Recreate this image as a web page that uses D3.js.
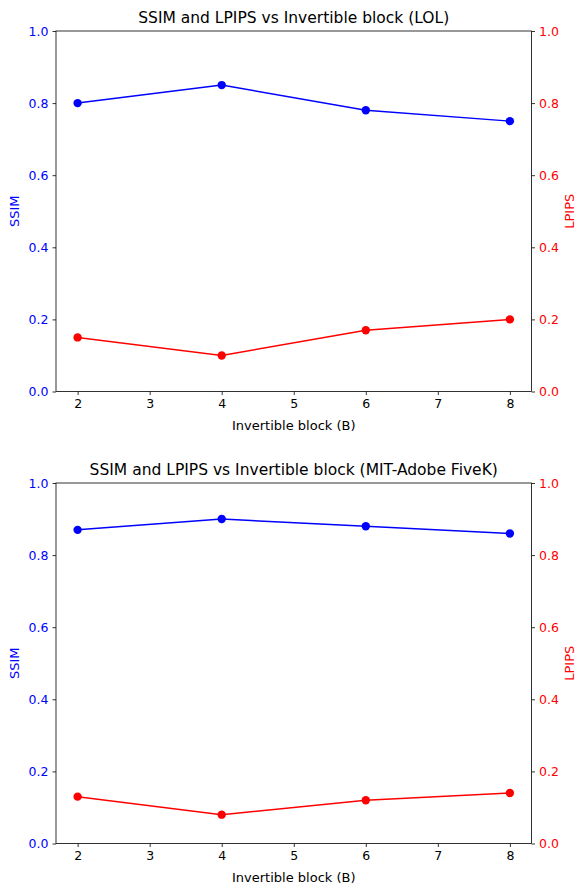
<!DOCTYPE html>
<html>
<head>
<meta charset="utf-8">
<script src="https://cdn.jsdelivr.net/npm/d3@7"></script>
<style>
  body { margin: 0; background: #fff; }
  svg text { font-family: "DejaVu Sans", sans-serif; }
</style>
</head>
<body>
<div id="chart"></div>
<script>

// x values shared by both panels
var blocks = [2, 4, 6, 8];
var xTicks = [2, 3, 4, 5, 6, 7, 8];
var yTicks = [0, 0.2, 0.4, 0.6, 0.8, 1.0];

var ssimLOL    = [0.80, 0.85, 0.78, 0.75];
var lpipsLOL   = [0.15, 0.10, 0.17, 0.20];
var ssimFiveK  = [0.87, 0.90, 0.88, 0.86];
var lpipsFiveK = [0.13, 0.08, 0.12, 0.14];

var titles = ["SSIM and LPIPS vs Invertible block (LOL)",
              "SSIM and LPIPS vs Invertible block (MIT-Adobe FiveK)"];

var width = 577, height = 886;

var svg = d3.select("#chart").append("svg")
    .attr("width", width).attr("height", height);

var left = 56, right = 531.5, plotH = 360.5;
var tops = [31, 483];

var x = d3.scaleLinear().domain([1.7, 8.3]).range([left, right]);

function drawPanel(top, ssim, lpips, title) {

  var y = d3.scaleLinear().domain([0, 1]).range([top + plotH, top]);
  var g = svg.append("g");

  var pts = function(vals) { return blocks.map(function(b, i) { return [b, vals[i]]; }); };
  var line = d3.line().x(function(d) { return x(d[0]); }).y(function(d) { return y(d[1]); });

  // axes
  var xAxis = g.append("g").attr("transform", "translate(0," + (top + plotH) + ")")
      .call(d3.axisBottom(x).tickValues(xTicks).tickFormat(d3.format("d")).tickSize(3.5).tickPadding(4));
  var yLeft = g.append("g").attr("transform", "translate(" + left + ",0)")
      .call(d3.axisLeft(y).tickValues(yTicks).tickFormat(d3.format(".1f")).tickSize(3.5).tickPadding(4));
  var yRight = g.append("g").attr("transform", "translate(" + right + ",0)")
      .call(d3.axisRight(y).tickValues(yTicks).tickFormat(d3.format(".1f")).tickSize(3.5).tickPadding(4));

  [xAxis, yLeft, yRight].forEach(function(a) {
    a.select(".domain").remove();
    a.selectAll("line").attr("stroke", "#000").attr("stroke-width", 0.8);
    a.selectAll("text").style("font-size", "12.5px").attr("fill", "#000");
  });
  yLeft.selectAll("text").attr("fill", "blue");
  yRight.selectAll("text").attr("fill", "red");

  // frame
  g.append("rect")
   .attr("x", left).attr("y", top)
   .attr("width", right - left).attr("height", plotH)
   .attr("fill", "none").attr("stroke", "#000").attr("stroke-width", 0.8);

  // series
  [[ssim, "blue"], [lpips, "red"]].forEach(function(s) {
    g.append("path").datum(pts(s[0]))
     .attr("d", line).attr("fill", "none")
     .attr("stroke", s[1]).attr("stroke-width", 1.5);
    g.selectAll(null).data(pts(s[0])).enter().append("circle")
     .attr("cx", function(d) { return x(d[0]); })
     .attr("cy", function(d) { return y(d[1]); })
     .attr("r", 4.2).attr("fill", s[1]);
  });

  // labels
  g.append("text").attr("x", (left + right) / 2).attr("y", top - 8)
   .attr("text-anchor", "middle").style("font-size", "15.5px").text(title);
  g.append("text").attr("x", (left + right) / 2).attr("y", top + plotH + 38)
   .attr("text-anchor", "middle").style("font-size", "13px").text("Invertible block (B)");
  g.append("text")
   .attr("transform", "translate(19," + (top + plotH / 2) + ") rotate(-90)")
   .attr("text-anchor", "middle").attr("fill", "blue").style("font-size", "13px").text("SSIM");
  g.append("text")
   .attr("transform", "translate(573.5," + (top + plotH / 2) + ") rotate(-90)")
   .attr("text-anchor", "middle").attr("fill", "red").style("font-size", "13px").text("LPIPS");
}

drawPanel(tops[0], ssimLOL, lpipsLOL, titles[0]);
drawPanel(tops[1], ssimFiveK, lpipsFiveK, titles[1]);

</script>
</body>
</html>
